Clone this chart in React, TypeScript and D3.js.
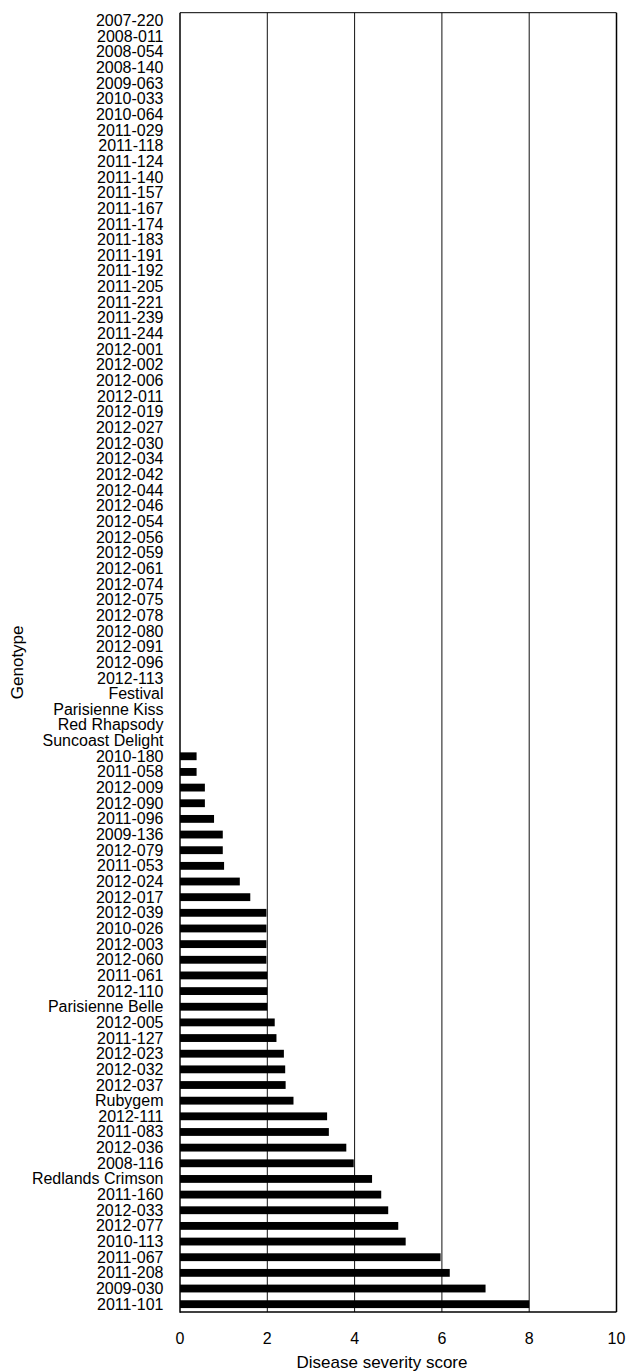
import React from "react";
import * as d3 from "d3";

const genotypes: string[] = [
  "2007-220","2008-011","2008-054","2008-140","2009-063","2010-033","2010-064","2011-029","2011-118","2011-124",
  "2011-140","2011-157","2011-167","2011-174","2011-183","2011-191","2011-192","2011-205","2011-221","2011-239",
  "2011-244","2012-001","2012-002","2012-006","2012-011","2012-019","2012-027","2012-030","2012-034","2012-042",
  "2012-044","2012-046","2012-054","2012-056","2012-059","2012-061","2012-074","2012-075","2012-078","2012-080",
  "2012-091","2012-096","2012-113","Festival","Parisienne Kiss","Red Rhapsody","Suncoast Delight",
  "2010-180","2011-058","2012-009","2012-090","2011-096","2009-136","2012-079","2011-053","2012-024","2012-017",
  "2012-039","2010-026","2012-003","2012-060","2011-061","2012-110","Parisienne Belle","2012-005","2011-127","2012-023",
  "2012-032","2012-037","Rubygem","2012-111","2011-083","2012-036","2008-116","Redlands Crimson","2011-160","2012-033",
  "2012-077","2010-113","2011-067","2011-208","2009-030","2011-101"
];

const severity: number[] = [
  0,0,0,0,0,0,0,0,0,0,
  0,0,0,0,0,0,0,0,0,0,
  0,0,0,0,0,0,0,0,0,0,
  0,0,0,0,0,0,0,0,0,0,
  0,0,0,0,0,0,0,
  0.38,0.38,0.57,0.57,0.78,0.98,0.98,1.01,1.37,1.61,
  1.98,1.98,1.98,1.98,2.0,2.0,2.0,2.17,2.21,2.38,
  2.41,2.42,2.6,3.37,3.41,3.81,3.98,4.4,4.61,4.77,
  5.0,5.17,5.97,6.18,7.0,8.0
];

const xTicks: number[] = [0, 2, 4, 6, 8, 10];
const xTitle = "Disease severity score";
const yTitle = "Genotype";

const W = 628;
const H = 1371;
const FONT = "'Liberation Sans', Arial, sans-serif";

export default function App() {
  const left = 180, right = 616.5, top = 12.7, bottom = 1312;
  const x = d3.scaleLinear().domain([0, 10]).range([left, right]);
  const y = d3.scaleBand<string>().domain(genotypes).range([top, bottom]).paddingInner(0.5).paddingOuter(0.25);
  const data = genotypes.map((g, i) => ({ g, v: severity[i] }));

  return (
    <svg width={W} height={H} style={{ position: "absolute", left: 0, top: 0, background: "#fff" }} fontFamily={FONT}>
      <rect x={0} y={0} width={W} height={H} fill="#fff" />
      {xTicks.slice(1, -1).map((t) => (
        <line key={t} x1={x(t)} x2={x(t)} y1={top} y2={bottom} stroke="#111" strokeWidth={1} />
      ))}
      {data.map((d) =>
        d.v > 0 ? (
          <rect key={d.g} x={x(0)} y={y(d.g)!} width={x(d.v) - x(0)} height={y.bandwidth()} fill="#000" />
        ) : null
      )}
      <line x1={left} x2={right} y1={top} y2={top} stroke="#000" strokeWidth={1} />
      <line x1={right} x2={right} y1={top} y2={bottom} stroke="#000" strokeWidth={1.5} />
      <line x1={left} x2={left} y1={top} y2={bottom + 0.75} stroke="#000" strokeWidth={1.5} />
      <line x1={left} x2={right} y1={bottom} y2={bottom} stroke="#000" strokeWidth={1.5} />
      {genotypes.map((g) => (
        <text key={g} x={163.5} y={y(g)! + y.bandwidth() / 2} textAnchor="end" dominantBaseline="central" fontSize={16} fill="#000">
          {g}
        </text>
      ))}
      {xTicks.map((t) => (
        <text key={t} x={x(t)} y={1338.5} textAnchor="middle" dominantBaseline="central" fontSize={16} fill="#000">
          {t}
        </text>
      ))}
      <text x={382} y={1362} textAnchor="middle" dominantBaseline="central" fontSize={17} fill="#000">
        {xTitle}
      </text>
      <text transform={`translate(17.5, ${(top + bottom) / 2}) rotate(-90)`} textAnchor="middle" dominantBaseline="central" fontSize={17} fill="#000">
        {yTitle}
      </text>
    </svg>
  );
}
